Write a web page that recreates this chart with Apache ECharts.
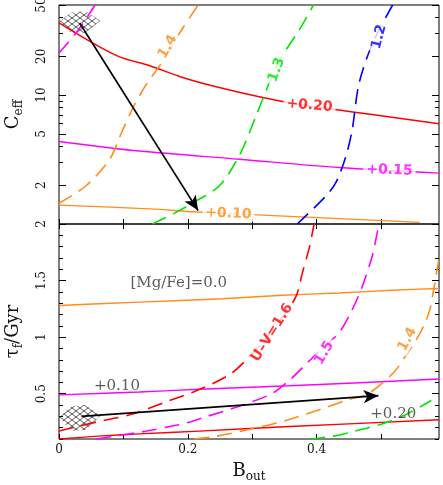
<!DOCTYPE html>
<html>
<head>
<meta charset="utf-8">
<script src="https://cdn.jsdelivr.net/npm/echarts@6/dist/echarts.min.js"></script>
<style>
  html, body { margin: 0; padding: 0; background: #fff; }
  #chart { width: 443px; height: 485px; }
</style>
</head>
<body>
<div id="chart"></div>
<script>
// ---- ticks ----
const xTicks = [0, 0.1, 0.2, 0.3, 0.4, 0.5];
const xLabels = [0, 0.2, 0.4];
const ceffMinor = [1, 2, 3, 4, 5, 6, 7, 8, 9, 10, 20, 30, 40, 50];
const ceffMajor = [2, 5, 10, 20, 50];
const tauMinor = [0.1, 0.2, 0.3, 0.4, 0.5, 0.6, 0.7, 0.8, 0.9, 1, 1.1, 1.2, 1.3, 1.4, 1.5, 1.6, 1.7, 1.8, 1.9, 2];
const tauMajor = [0.5, 1, 1.5, 2];

// ---- top panel: C_eff vs B_out ----
const ceffMg020 = [[0, 36.3], [0.052, 25.4], [0.094, 19.8], [0.141, 16.9], [0.192, 13.7], [0.244, 11.6], [0.311, 9.7], [0.373, 8.45], [0.486, 7.07], [0.59, 6.0]];
const ceffMg015 = [[0, 4.37], [0.125, 3.68], [0.28, 3.18], [0.435, 2.74], [0.59, 2.48]];
const ceffMg010 = [[0, 1.40], [0.141, 1.31], [0.214, 1.24], [0.384, 1.13], [0.56, 1.03]];
const ceffUV15 = [[0, 21.2], [0.03, 32], [0.056, 50]];
const ceffUV14 = [[0, 1.45], [0.042, 1.98], [0.079, 3.2], [0.097, 5.1], [0.115, 8.0], [0.135, 12], [0.16, 18], [0.192, 33], [0.216, 50]];
const ceffUV13 = [[0.145, 1.0], [0.18, 1.22], [0.213, 1.51], [0.249, 1.98], [0.28, 3.4], [0.306, 6.9], [0.322, 11], [0.343, 18.8], [0.373, 32], [0.395, 50]];
const ceffUV12 = [[0.37, 1.0], [0.415, 1.66], [0.43, 2.1], [0.445, 3.3], [0.455, 5.3], [0.466, 12.4], [0.487, 25.3], [0.518, 50]];
const ceffArrow = [[0.032, 36.3], [0.216, 1.27]];
const ceffHatch = [[0, 37], [0.02, 43.8], [0.041, 44.8], [0.064, 37.7], [0.041, 30.4], [0.02, 30.0]];
const ceffNotes = ['+0.20', '+0.15', '+0.10', '1.4', '1.3', '1.2'];
const ceffNoteAt = [[0.389, 8.3], [0.513, 2.61], [0.263, 1.2], [0.169, 23.7], [0.338, 15.7], [0.497, 28.3]];

// ---- bottom panel: tau_f vs B_out ----
const tauMg000 = [[0, 1.28], [0.125, 1.31], [0.254, 1.34], [0.347, 1.37], [0.435, 1.39], [0.517, 1.415], [0.59, 1.43]];
const tauMg010 = [[0, 0.49], [0.125, 0.515], [0.218, 0.54], [0.358, 0.57], [0.59, 0.63]];
const tauMg020 = [[0, 0.10], [0.06, 0.125], [0.125, 0.145], [0.218, 0.17], [0.358, 0.21], [0.59, 0.27]];
const tauUV16 = [[0, 0.17], [0.058, 0.25], [0.114, 0.32], [0.167, 0.43], [0.215, 0.53], [0.265, 0.67], [0.296, 0.83], [0.33, 1.05], [0.35, 1.2], [0.368, 1.36], [0.378, 1.57], [0.389, 1.8], [0.396, 2.0]];
const tauUV15 = [[0.058, 0.10], [0.08, 0.12], [0.136, 0.17], [0.172, 0.21], [0.2, 0.245], [0.23, 0.3], [0.28, 0.39], [0.33, 0.5], [0.36, 0.63], [0.385, 0.77], [0.412, 0.92], [0.435, 1.04], [0.455, 1.24], [0.471, 1.45], [0.486, 1.71], [0.494, 1.92], [0.497, 2.0]];
const tauUV14 = [[0.21, 0.10], [0.24, 0.12], [0.3, 0.19], [0.35, 0.26], [0.41, 0.37], [0.45, 0.45], [0.48, 0.5], [0.52, 0.69], [0.54, 0.85], [0.555, 0.98], [0.568, 1.12], [0.576, 1.25], [0.582, 1.43], [0.59, 1.7]];
const tauUV13 = [[0.39, 0.10], [0.425, 0.125], [0.46, 0.17], [0.505, 0.24], [0.54, 0.32], [0.578, 0.44]];
const tauArrow = [[0.035, 0.30], [0.496, 0.483]];
const tauHatch = [[0, 0.29], [0.02, 0.39], [0.041, 0.40], [0.064, 0.304], [0.041, 0.18], [0.02, 0.17]];
const tauNotes = ['[Mg/Fe]=0.0', '+0.10', '+0.20', 'U\u2013V=1.6', '1.5', '1.4'];
const tauNoteAt = [[0.186, 1.48], [0.09, 0.57], [0.519, 0.32], [0.331, 1.04], [0.412, 0.86], [0.541, 0.98]];

const RED = '#ff0000', MAG = '#ff00ff', ORA = '#ff8c1a', GRN = '#00e600', BLU = '#0000ff';
const SERIF = 'DejaVu Serif';
const SANS = 'DejaVu Sans';
const lg = v => Math.log10(v);
const toLog = arr => arr.map(p => [p[0], lg(p[1])]);

function hatchPattern() {
  const c = document.createElement('canvas');
  c.width = 8; c.height = 6;
  const g = c.getContext('2d');
  g.strokeStyle = '#333';
  g.lineWidth = 0.8;
  g.beginPath();
  g.moveTo(0, 0); g.lineTo(8, 6);
  g.moveTo(8, 0); g.lineTo(0, 6);
  g.stroke();
  return c;
}
const pattern = { image: hatchPattern(), repeat: 'repeat' };

const chart = echarts.init(document.getElementById('chart'), null, { renderer: 'canvas' });

function xAxis(grid, pos, labels) {
  return {
    type: 'value', gridIndex: grid, position: pos, min: 0, max: 0.59,
    axisLine: { show: false }, splitLine: { show: false },
    axisTick: { inside: true, length: 5, customValues: xTicks, lineStyle: { color: '#000' } },
    axisLabel: labels ? {
      customValues: xLabels, margin: 5, color: '#111', fontFamily: SERIF, fontSize: 12,
      formatter: v => String(Math.round(v * 10) / 10)
    } : { show: false }
  };
}

function yAxis(grid, pos, min, max, ticks, len, extra) {
  return Object.assign({
    type: 'value', gridIndex: grid, position: pos, min: min, max: max,
    axisLine: { show: false }, splitLine: { show: false },
    axisTick: { inside: true, length: len, customValues: ticks, lineStyle: { color: '#000' } },
    axisLabel: { show: false }
  }, extra || {});
}

const nameRich = {
  m: { fontSize: 18, fontFamily: SERIF, color: '#111', lineHeight: 24 },
  s: { fontSize: 12, fontFamily: SERIF, color: '#111', lineHeight: 12, verticalAlign: 'bottom' }
};

function line(data, color, dashed, xi, yi) {
  return {
    type: 'line', xAxisIndex: xi, yAxisIndex: yi, data: data,
    showSymbol: false, symbol: 'none', smooth: 0.3, silent: true,
    lineStyle: { color: color, width: dashed ? 1.6 : 1.4, type: dashed ? [15, 8] : 'solid' },
    z: 3
  };
}

function arrow(pts, xi, yi) {
  return {
    type: 'line', xAxisIndex: xi, yAxisIndex: yi, data: [], silent: true,
    markLine: {
      silent: true, symbol: ['none', 'arrow'], symbolSize: [10, 15],
      label: { show: false },
      lineStyle: { color: '#000', width: 1.7, type: 'solid' },
      emphasis: { disabled: true },
      data: [[{ coord: pts[0] }, { coord: pts[1] }]]
    },
    z: 5
  };
}

function hatch(poly, xi, yi) {
  return {
    type: 'custom', xAxisIndex: xi, yAxisIndex: yi, data: [poly[0]], silent: true, clip: true,
    renderItem: (params, api) => ({
      type: 'polygon',
      shape: { points: poly.map(p => api.coord(p)) },
      style: { fill: pattern, stroke: null }
    }),
    z: 2
  };
}

function notes(texts, at, styles, xi, yi) {
  return {
    type: 'scatter', xAxisIndex: xi, yAxisIndex: yi, symbolSize: 0, silent: true, z: 6,
    label: { show: true, position: 'inside', formatter: p => p.name },
    data: texts.map((t, i) => ({ name: t, value: at[i], label: styles[i] }))
  };
}

const boldNote = (color, rot, bg) => ({
  color: color, rotate: rot, fontFamily: SANS, fontWeight: 'bold', fontSize: 14,
  backgroundColor: bg ? '#fff' : 'transparent', padding: bg ? [0, 3] : 0
});
const plainNote = { color: '#333', fontFamily: SERIF, fontSize: 15, rotate: 0 };

chart.setOption({
  backgroundColor: '#fff',
  animation: false,
  grid: [
    { left: 59, right: 4, top: 5, height: 219, show: true, borderColor: '#000', borderWidth: 1, backgroundColor: 'transparent', containLabel: false, outerBoundsMode: 'none' },
    { left: 59, right: 4, top: 224, height: 215, show: true, borderColor: '#000', borderWidth: 1, backgroundColor: 'transparent', containLabel: false, outerBoundsMode: 'none' }
  ],
  xAxis: [
    xAxis(0, 'bottom', false),
    xAxis(0, 'top', false),
    Object.assign(xAxis(1, 'bottom', true), {
      name: '{m|B}{s|out}', nameLocation: 'middle', nameGap: 20,
      nameTextStyle: { rich: nameRich }
    }),
    xAxis(1, 'top', false)
  ],
  yAxis: [
    yAxis(0, 'left', 0, lg(50), ceffMinor.map(lg), 4),
    yAxis(0, 'left', 0, lg(50), ceffMajor.map(lg), 7, {
      axisLabel: {
        show: true, customValues: ceffMajor.map(lg), rotate: 90, margin: 11,
        color: '#111', fontFamily: SERIF, fontSize: 12,
        formatter: v => String(Math.round(Math.pow(10, v)))
      },
      name: '{m|C}{s|eff}', nameLocation: 'middle', nameRotate: 90, nameGap: 34,
      nameTextStyle: { rich: nameRich }
    }),
    yAxis(0, 'right', 0, lg(50), ceffMinor.map(lg), 4),
    yAxis(0, 'right', 0, lg(50), ceffMajor.map(lg), 7),
    yAxis(1, 'left', 0.1, 2, tauMinor, 4),
    yAxis(1, 'left', 0.1, 2, tauMajor, 7, {
      axisLabel: {
        show: true, customValues: tauMajor, rotate: 90, margin: 11,
        color: '#111', fontFamily: SERIF, fontSize: 12,
        formatter: v => String(v)
      },
      name: '{m|\u03c4}{s|f}{m|/Gyr}', nameLocation: 'middle', nameRotate: 90, nameGap: 34,
      nameTextStyle: { rich: nameRich }
    }),
    yAxis(1, 'right', 0.1, 2, tauMinor, 4),
    yAxis(1, 'right', 0.1, 2, tauMajor, 7)
  ],
  series: [
    hatch(toLog(ceffHatch), 0, 0),
    line(toLog(ceffMg020), RED, false, 0, 0),
    line(toLog(ceffMg015), MAG, false, 0, 0),
    line(toLog(ceffMg010), ORA, false, 0, 0),
    line(toLog(ceffUV15), MAG, true, 0, 0),
    line(toLog(ceffUV14), ORA, true, 0, 0),
    line(toLog(ceffUV13), GRN, true, 0, 0),
    line(toLog(ceffUV12), BLU, true, 0, 0),
    arrow(toLog(ceffArrow), 0, 0),
    notes(ceffNotes, toLog(ceffNoteAt), [
      boldNote(RED, -5, true), boldNote(MAG, -2, true), boldNote(ORA, -2, true),
      boldNote(ORA, 60, true), boldNote(GRN, 70, true), boldNote(BLU, 75, true)
    ], 0, 0),

    hatch(tauHatch, 2, 4),
    line(tauMg000, ORA, false, 2, 4),
    line(tauMg010, MAG, false, 2, 4),
    line(tauMg020, RED, false, 2, 4),
    line(tauUV16, RED, true, 2, 4),
    line(tauUV15, MAG, true, 2, 4),
    line(tauUV14, ORA, true, 2, 4),
    line(tauUV13, GRN, true, 2, 4),
    arrow(tauArrow, 2, 4),
    notes(tauNotes, tauNoteAt, [
      plainNote, plainNote, plainNote,
      boldNote(RED, 58, true), boldNote(MAG, 60, true), boldNote(ORA, 62, true)
    ], 2, 4)
  ]
});
</script>
</body>
</html>
